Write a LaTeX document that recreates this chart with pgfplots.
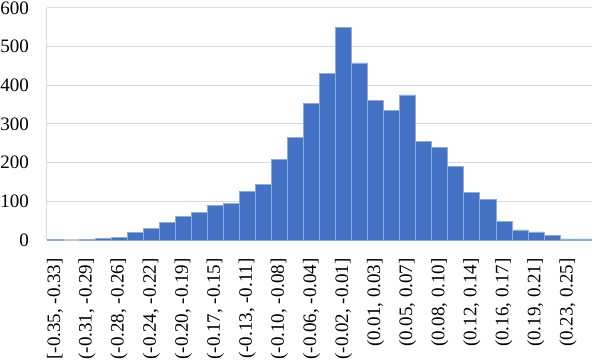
\documentclass[border=0pt]{standalone}
\usepackage{pgfplots}
\pgfplotsset{compat=1.18}
\usepackage{fontspec}
\setmainfont{Liberation Serif}
\definecolor{barblue}{HTML}{4472C4}
\definecolor{barsep}{HTML}{8FAADC}
\definecolor{gridgray}{HTML}{D9D9D9}
\begin{document}
\begin{tikzpicture}
\begin{axis}[
  scale only axis,
  width=545bp, height=232bp,
  xmin=-0.5, xmax=33.5,
  ymin=0, ymax=600,
  ytick={0,100,...,600},
  xtick={0,2,...,32},
  xticklabels={{[-0.35, -0.33]},{(-0.31, -0.29]},{(-0.28, -0.26]},{(-0.24, -0.22]},{(-0.20, -0.19]},{(-0.17, -0.15]},{(-0.13, -0.11]},{(-0.10, -0.08]},{(-0.06, -0.04]},{(-0.02, -0.01]},{(0.01, 0.03]},{(0.05, 0.07]},{(0.08, 0.10]},{(0.12, 0.14]},{(0.16, 0.17]},{(0.19, 0.21]},{(0.23, 0.25]}},
  major tick length=0pt,
  axis x line*=bottom,
  axis y line*=left,
  axis line style={draw=gridgray, line width=1bp, -},
  ymajorgrids,
  grid style={draw=gridgray, line width=1bp},
  /pgf/number format/assume math mode=true,
  ticklabel style={font=\fontsize{19bp}{21bp}\selectfont, inner sep=0pt},
  yticklabel style={anchor=east, xshift=-18bp},
  xticklabel style={rotate=90, anchor=east, xshift=-18bp},
  ybar, bar width=1,
  clip=false,
]
\addplot[fill=barblue, draw=barsep, line width=0.6bp] coordinates {
(0,1) (1,0) (2,2) (3,4) (4,7) (5,20) (6,29) (7,45) (8,60) (9,72)
(10,90) (11,94) (12,125) (13,144) (14,209) (15,266) (16,353) (17,430)
(18,550) (19,458) (20,362) (21,335) (22,375) (23,255) (24,239) (25,191)
(26,123) (27,105) (28,49) (29,26) (30,21) (31,12) (32,3) (33,3)
};
\end{axis}
\pgfresetboundingbox
\path[use as bounding box] ([xshift=-47bp,yshift=-120bp]current axis.south west) rectangle ([yshift=8bp]current axis.north east);
\end{tikzpicture}
\end{document}
